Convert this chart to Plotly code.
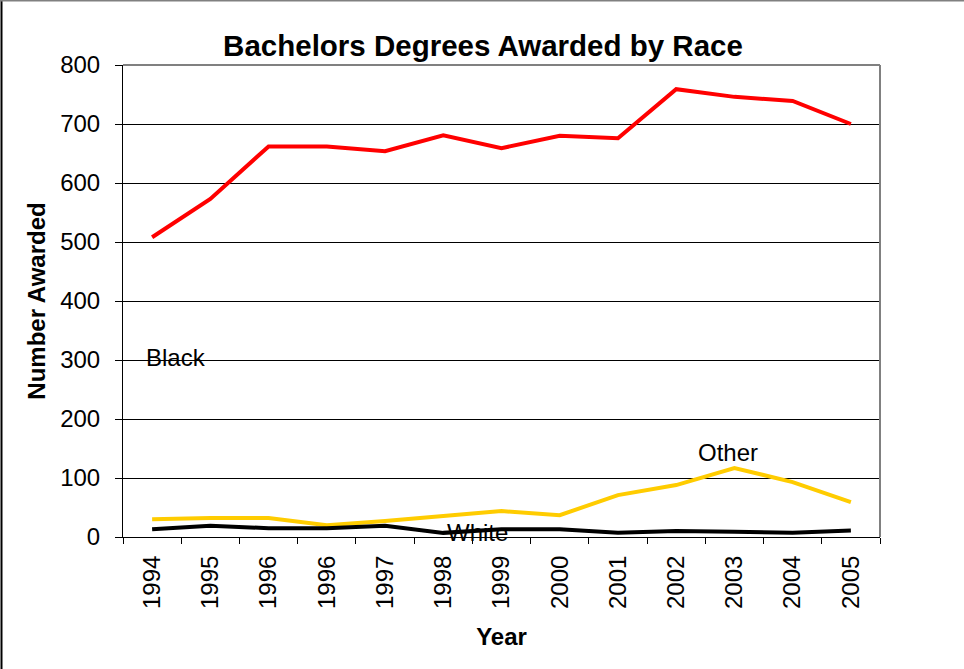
import plotly.graph_objects as go

years = ["1994", "1995", "1996", "1996", "1997", "1998", "1999",
         "2000", "2001", "2002", "2003", "2004", "2005"]
red_series = [508, 573, 662, 662, 654, 681, 659, 680, 676, 759, 746, 739, 700]
other_series = [30, 32, 32, 20, 27, 35, 44, 37, 71, 88, 117, 93, 59]
white_series = [13, 19, 15, 15, 19, 7, 13, 13, 7, 10, 9, 7, 11]

series_labels = ["Black", "Other", "White"]
label_x = [0.41, 9.89, 5.58]
label_y = [305, 144, 7]

FONT = "Liberation Sans, Arial, sans-serif"
xs = list(range(len(years)))

fig = go.Figure()
fig.add_trace(go.Scatter(x=xs, y=other_series, mode="lines",
                         line=dict(color="#FFCC00", width=4), name="Other"))
fig.add_trace(go.Scatter(x=xs, y=white_series, mode="lines",
                         line=dict(color="#000000", width=4), name="White"))
fig.add_trace(go.Scatter(x=xs, y=red_series, mode="lines",
                         line=dict(color="#FF0000", width=4), name="Black"))

for t, x, y in zip(series_labels, label_x, label_y):
    fig.add_annotation(x=x, y=y, xref="x", yref="y", text=t, showarrow=False,
                       font=dict(family=FONT, size=24, color="black"),
                       xanchor="center", yanchor="middle")

fig.update_layout(
    width=964, height=669,
    margin=dict(l=123, r=84, t=65, b=132),
    paper_bgcolor="white", plot_bgcolor="white",
    showlegend=False,
    font=dict(family=FONT, size=24, color="black"),
    title=dict(text="<b>Bachelors Degrees Awarded by Race</b>",
               font=dict(family=FONT, size=29.5, color="black"),
               x=483 / 964, xref="container", xanchor="center",
               y=1 - 46 / 669, yref="container", yanchor="middle"),
    xaxis=dict(
        range=[-0.5, len(years) - 0.5],
        tickmode="array", tickvals=xs, ticktext=years,
        tickangle=-90, ticks="outside", ticklen=0,
        ticklabelstandoff=8,
        minor=dict(tick0=-0.5, dtick=1, ticks="outside", ticklen=6,
                   tickcolor="black", tickwidth=1),
        showline=True, linecolor="black", linewidth=1,
        showgrid=False, zeroline=False,
        tickfont=dict(family=FONT, size=24, color="black"),
        title=dict(text="<b>Year</b>", standoff=20,
                   font=dict(family=FONT, size=24, color="black")),
    ),
    yaxis=dict(
        range=[0, 800], dtick=100, tick0=0,
        ticks="outside", ticklen=7, tickcolor="black",
        ticklabelstandoff=10,
        showline=True, linecolor="black", linewidth=1,
        showgrid=True, gridcolor="black", gridwidth=1,
        zeroline=False,
        tickfont=dict(family=FONT, size=24, color="black"),
        title=dict(text="<b>Number Awarded</b>", standoff=7,
                   font=dict(family=FONT, size=24, color="black")),
    ),
    shapes=[
        dict(type="line", xref="paper", yref="paper", x0=0, x1=1, y0=1, y1=1,
             line=dict(color="#808080", width=2)),
        dict(type="line", xref="paper", yref="paper", x0=1, x1=1, y0=0, y1=1,
             line=dict(color="#808080", width=2)),
        dict(type="line", xref="paper", yref="paper",
             x0=(1.5 - 123) / 757, x1=(1.5 - 123) / 757,
             y0=(537 - 669) / 472, y1=537 / 472,
             line=dict(color="black", width=2)),
        dict(type="line", xref="paper", yref="paper",
             x0=(0 - 123) / 757, x1=(964 - 123) / 757,
             y0=(537 - 0.5) / 472, y1=(537 - 0.5) / 472,
             line=dict(color="#808080", width=2)),
    ],
)

fig.write_html("out.html", config={"displayModeBar": False},
               post_script="document.body.style.margin='0';document.body.style.padding='0';")
